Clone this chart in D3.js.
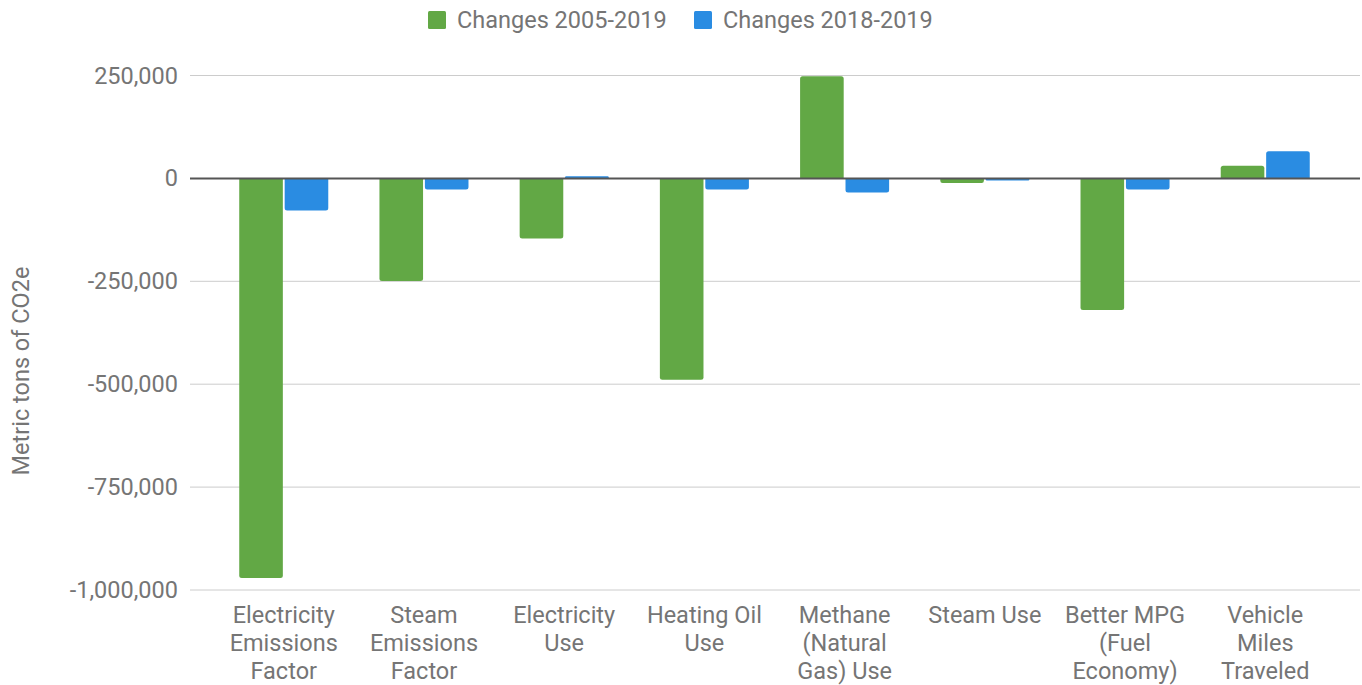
<!DOCTYPE html>
<html>
<head>
<meta charset="utf-8">
<script src="https://cdn.jsdelivr.net/npm/d3@7"></script>
<style>
  body { margin: 0; background: #fff; }
  text { font-family: Roboto, "Noto Sans", sans-serif; }
</style>
</head>
<body>
<div id="chart"></div>
<script>
// ---- data ----
const categories = [
    "Electricity\nEmissions\nFactor",
    "Steam\nEmissions\nFactor",
    "Electricity\nUse",
    "Heating Oil\nUse",
    "Methane\n(Natural\nGas) Use",
    "Steam Use",
    "Better MPG\n(Fuel\nEconomy)",
    "Vehicle\nMiles\nTraveled"
];
const seriesNames = ["Changes 2005-2019", "Changes 2018-2019"];
const changes2005 = [-971000, -249000, -146000, -489000, 248000, -11000, -320000, 31000];
const changes2018 = [-78000, -27000, 5000, -27000, -34000, -5000, -27000, 66000];
const yTicks = [250000, 0, -250000, -500000, -750000, -1000000];
const colors = ["#62a845", "#2a8ce2"];

const width = 1362, height = 685;
const fontSize = '23.5px';
const textColor = '#757575';

const svg = d3.select('#chart').append('svg')
    .attr('width', width)
    .attr('height', height);

const x = d3.scaleBand()
    .domain(d3.range(categories.length))
    .range([214, 1335])
    .paddingInner(0.365)
    .paddingOuter(0.18);

const xs = d3.scaleBand()
    .domain([0, 1])
    .range([0, x.bandwidth()])
    .paddingInner(0.04);

const y = d3.scaleLinear()
    .domain([-1000000, 250000])
    .range([590, 75.5]);

// gridlines
svg.append('g')
    .selectAll('line')
    .data(yTicks.filter(d => d !== 0))
    .enter().append('line')
    .attr('x1', 190).attr('x2', 1360)
    .attr('y1', d => y(d)).attr('y2', d => y(d))
    .attr('stroke', '#cccccc')
    .attr('stroke-width', 1);

// y axis labels (plain hyphen for negatives, like the source)
const fmt = d3.format(',');
const yAxis = svg.append('g')
    .attr('transform', 'translate(178,0)')
    .call(d3.axisLeft(y).tickValues(yTicks).tickSize(0).tickPadding(0)
        .tickFormat(d => fmt(d).replace('\u2212', '-')));
yAxis.select('.domain').remove();
yAxis.selectAll('text')
    .attr('fill', textColor)
    .style('font-size', fontSize)
    .style('font-family', 'Roboto, sans-serif');

// y title
svg.append('text')
    .attr('transform', 'translate(29,371) rotate(-90)')
    .attr('text-anchor', 'middle')
    .attr('fill', textColor)
    .style('font-size', fontSize)
    .text('Metric tons of CO2e');

// bars
const rows = categories.map((c, i) => ({i, vals: [changes2005[i], changes2018[i]]}));

function barPath(x0, w, v) {
    const y0 = y(0), y1 = y(v);
    const r = Math.min(2.5, Math.abs(y1 - y0) / 2);
    if (v >= 0) {
        return `M${x0},${y0} V${y1 + r} Q${x0},${y1} ${x0 + r},${y1} H${x0 + w - r} Q${x0 + w},${y1} ${x0 + w},${y1 + r} V${y0} Z`;
    }
    return `M${x0},${y0} V${y1 - r} Q${x0},${y1} ${x0 + r},${y1} H${x0 + w - r} Q${x0 + w},${y1} ${x0 + w},${y1 - r} V${y0} Z`;
}

const groups = svg.append('g')
    .selectAll('g')
    .data(rows)
    .enter().append('g')
    .attr('transform', d => `translate(${x(d.i)},0)`);

groups.selectAll('path')
    .data(d => d.vals.map((v, k) => ({v, k})))
    .enter().append('path')
    .attr('d', d => barPath(xs(d.k), xs.bandwidth(), d.v))
    .attr('fill', d => colors[d.k]);

// zero line
svg.append('line')
    .attr('x1', 190).attr('x2', 1360)
    .attr('y1', y(0)).attr('y2', y(0))
    .attr('stroke', '#555555')
    .attr('stroke-width', 2);

// x labels
const xl = svg.append('g')
    .selectAll('text')
    .data(categories)
    .enter().append('text')
    .attr('text-anchor', 'middle')
    .attr('fill', textColor)
    .style('font-size', fontSize)
    .attr('x', (d, i) => x(i) + x.bandwidth() / 2)
    .attr('y', 623);
xl.selectAll('tspan')
    .data(d => d.split('\n'))
    .enter().append('tspan')
    .attr('x', function () { return d3.select(this.parentNode).attr('x'); })
    .attr('dy', (d, j) => j === 0 ? 0 : 28)
    .text(d => d);

// legend
const legendX = [428, 694];
const legend = svg.append('g')
    .selectAll('g')
    .data(seriesNames)
    .enter().append('g')
    .attr('transform', (d, i) => `translate(${legendX[i]},11)`);
legend.append('rect')
    .attr('width', 18).attr('height', 18).attr('rx', 1.5)
    .attr('fill', (d, i) => colors[i]);
legend.append('text')
    .attr('x', 29).attr('y', 17)
    .attr('fill', textColor)
    .style('font-size', fontSize)
    .text(d => d);
</script>
</body>
</html>
